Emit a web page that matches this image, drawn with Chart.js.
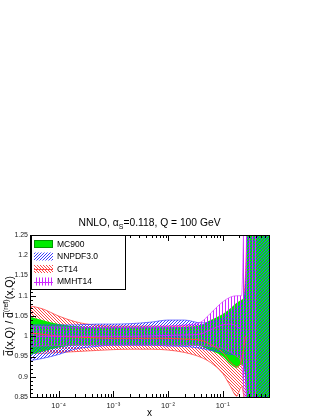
<!DOCTYPE html>
<html>
<head>
<meta charset="utf-8">
<script src="https://cdn.jsdelivr.net/npm/chart.js@4.4.0/dist/chart.umd.min.js"></script>
<style>
  html, body { margin: 0; padding: 0; background: #fff; }
  #wrap { width: 323px; height: 418px; }
</style>
</head>
<body>
<div id="wrap"><canvas id="pdfRatio" width="323" height="418"></canvas></div>
<script>
const xGrid = [3e-5, 5e-5, 1e-4, 2e-4, 5e-4, 1e-3, 2e-3, 5e-3, 1e-2, 2e-2, 4e-2, 6e-2,
               0.1, 0.14, 0.18, 0.22, 0.26, 0.30, 0.35, 0.42, 0.5, 0.7];

// MC900 (green, solid)
const mc900Upper = [1.048, 1.040, 1.030, 1.025, 1.022, 1.022, 1.022, 1.022, 1.022, 1.023, 1.028, 1.040,
                    1.055, 1.070, 1.083, 1.090, 1.12, 1.40, 1.40, 1.40, 1.40, 1.40];
const mc900Lower = [0.954, 0.962, 0.972, 0.977, 0.978, 0.978, 0.978, 0.978, 0.978, 0.977, 0.975, 0.965,
                    0.950, 0.930, 0.922, 0.930, 0.90, 0.60, 0.60, 0.60, 0.60, 0.60];

// NNPDF3.0 (blue hatch)
const nnpdfUpper = [1.028, 1.028, 1.028, 1.028, 1.030, 1.030, 1.031, 1.035, 1.040, 1.040, 1.033, 1.035,
                    1.045, 1.060, 1.070, 1.080, 1.12, 1.40, 1.40, 1.40, 1.40, 1.40];
const nnpdfLower = [0.940, 0.945, 0.955, 0.968, 0.975, 0.978, 0.978, 0.978, 0.976, 0.975, 0.970, 0.965,
                    0.960, 0.955, 0.955, 0.950, 0.90, 0.60, 0.60, 0.60, 0.60, 0.60];

// CT14 (red hatch) - stops at x = 0.35
const ct14Upper = [1.075, 1.068, 1.050, 1.036, 1.027, 1.025, 1.025, 1.025, 1.025, 1.025, 1.025, 1.022,
                   1.020, 1.025, 1.040, 1.070, 1.15, 1.40, 1.40];
const ct14Lower = [0.958, 0.958, 0.960, 0.962, 0.965, 0.967, 0.968, 0.968, 0.966, 0.960, 0.948, 0.935,
                   0.908, 0.875, 0.852, 0.875, 0.80, 0.60, 0.60];
const ct14Central = [1.008, 1.005, 1.000, 0.998, 0.996, 0.995, 0.995, 0.995, 0.995, 0.993, 0.990, 0.980,
                     0.960, 0.935, 0.925, 0.940, 1.00];

// MMHT14 (magenta vertical hatch) - stops at x = 0.42
const mmhtUpper = [1.025, 1.024, 1.023, 1.022, 1.022, 1.022, 1.022, 1.023, 1.025, 1.028, 1.035, 1.057,
                   1.085, 1.097, 1.100, 1.100, 1.40, 1.40, 1.40, 1.40];
const mmhtLower = [0.975, 0.976, 0.977, 0.978, 0.978, 0.978, 0.978, 0.978, 0.978, 0.978, 0.977, 0.975,
                   0.970, 0.960, 0.950, 0.930, 0.80, 0.60, 0.60, 0.60];
const mmhtCentral = [1.000, 1.000, 1.000, 1.000, 1.000, 1.000, 1.000, 1.001, 1.002, 1.003, 1.006, 1.016,
                     1.028, 1.030, 1.025, 1.015];

const xTickValues = [1e-4, 1e-3, 1e-2, 1e-1];
const xTickLabels = ['10\u207B\u2074', '10\u207B\u00B3', '10\u207B\u00B2', '10\u207B\u00B9'];
const legendLabels = ['MC900', 'NNPDF3.0', 'CT14', 'MMHT14'];

const FONT = "'Liberation Sans', Arial, Helvetica, sans-serif";
const GREEN = 'rgb(0,235,0)';
const BLUE = 'rgb(60,60,255)';
const RED = 'rgb(255,70,70)';
const MAGENTA = 'rgb(205,40,255)';

const canvas = document.getElementById('pdfRatio');
const ctx = canvas.getContext('2d');

// pixel hatches, no antialiasing so they stay thin like ROOT's
function makeHatch(color, kind, gap) {
  const c = document.createElement('canvas');
  c.width = gap;
  c.height = gap;
  const g = c.getContext('2d');
  g.fillStyle = color;
  for (let i = 0; i < gap; i++) {
    if (kind === 'vertical') g.fillRect(0, i, 1, 1);
    else if (kind === 'forward') g.fillRect(gap - 1 - i, i, 1, 1);
    else g.fillRect(i, i, 1, 1);
  }
  return ctx.createPattern(c, 'repeat');
}

const blueHatch = makeHatch(BLUE, 'forward', 3);
const redHatch = makeHatch(RED, 'back', 3);
const magentaHatch = makeHatch(MAGENTA, 'vertical', 3);

const pts = (ys) => ys.map((y, i) => ({ x: xGrid[i], y: y }));

function band(lower, upper, fillStyle, edge, order) {
  return [
    { data: pts(lower), borderColor: edge, borderWidth: edge ? 1 : 0, fill: false, order: order },
    { data: pts(upper), borderColor: edge, borderWidth: edge ? 1 : 0, fill: '-1',
      backgroundColor: fillStyle, order: order }
  ];
}

// higher order = drawn first: CT14 lies under the solid MC900 band
const datasets = [
  ...band(ct14Lower, ct14Upper, redHatch, 'rgba(255,70,70,0.8)', 50),
  ...band(mc900Lower, mc900Upper, GREEN, null, 40),
  ...band(nnpdfLower, nnpdfUpper, blueHatch, 'rgba(60,60,255,0.7)', 30),
  ...band(mmhtLower, mmhtUpper, magentaHatch, 'rgba(205,40,255,0.6)', 10),
  { data: pts(ct14Central), borderColor: RED, borderWidth: 1, fill: false, order: 5 },
  { data: pts(mmhtCentral), borderColor: MAGENTA, borderWidth: 1, fill: false, order: 4 }
];

// frame, inward ticks, titles and the boxed legend, drawn ROOT style
const rootDecor = {
  id: 'rootDecor',
  afterDatasetsDraw(chart) {
    const a = chart.chartArea;
    const xs = chart.scales.x;
    const ys = chart.scales.y;
    const c = chart.ctx;
    c.save();
    c.strokeStyle = '#000';
    c.lineWidth = 1;
    c.beginPath();
    // y ticks every 0.01, major every 0.05
    for (let i = 0; i <= 40; i++) {
      const py = Math.round(ys.getPixelForValue(0.85 + i * 0.01)) + 0.5;
      const len = i % 5 === 0 ? 6 : 3;
      c.moveTo(a.left, py); c.lineTo(a.left + len, py);
    }
    // x ticks on log scale, top and bottom
    for (let k = -5; k <= 0; k++) {
      for (let m = 1; m <= 9; m++) {
        const v = m * Math.pow(10, k);
        if (v < xs.min || v > xs.max) continue;
        const px = Math.round(xs.getPixelForValue(v)) + 0.5;
        const len = m === 1 ? 6 : 3;
        c.moveTo(px, a.bottom); c.lineTo(px, a.bottom - len);
        c.moveTo(px, a.top); c.lineTo(px, a.top + len);
      }
    }
    c.stroke();
    c.strokeRect(Math.round(a.left) + 0.5, Math.round(a.top) + 0.5,
                 Math.round(a.right - a.left), Math.round(a.bottom - a.top));
    c.restore();
  },
  afterDraw(chart) {
    const a = chart.chartArea;
    const c = chart.ctx;
    c.save();
    c.fillStyle = '#000';
    c.textBaseline = 'alphabetic';

    // title with subscript
    const big = '10.3px ' + FONT;
    const small = '7px ' + FONT;
    const parts = [['NNLO, \u03B1', big, 0], ['S', small, 2.5], ['=0.118, Q = 100 GeV', big, 0]];
    let total = 0;
    parts.forEach(p => { c.font = p[1]; total += c.measureText(p[0]).width; });
    let tx = (a.left + a.right) / 2 - total / 2;
    parts.forEach(p => {
      c.font = p[1];
      c.fillText(p[0], tx, 226 + p[2]);
      tx += c.measureText(p[0]).width;
    });

    // x axis title
    c.font = '10px ' + FONT;
    c.textAlign = 'center';
    c.fillText('x', (a.left + a.right) / 2, 416);
    c.textAlign = 'left';

    // y axis title, rotated, with bars and superscript
    const yf = 10.5;
    const yParts = [['d', yf, 0, true], ['(x,Q) / ', yf, 0, false], ['d', yf, 0, true],
                    ['(ref)', 7, -4.5, false], ['(x,Q)', yf, 0, false]];
    let yTotal = 0;
    yParts.forEach(p => { c.font = p[1] + 'px ' + FONT; yTotal += c.measureText(p[0]).width; });
    c.translate(12.5, (a.top + a.bottom) / 2);
    c.rotate(-Math.PI / 2);
    let u = -yTotal / 2;
    yParts.forEach(p => {
      c.font = p[1] + 'px ' + FONT;
      const w = c.measureText(p[0]).width;
      c.fillText(p[0], u, p[2]);
      if (p[3]) {
        c.fillRect(u + 0.5, -p[1] * 0.88, w - 0.5, 0.8);
      }
      u += w;
    });
    c.setTransform(1, 0, 0, 1, 0, 0);

    // legend box
    const lx = 31.5, ly = 235.5, lw = 94, lh = 54;
    c.fillStyle = '#fff';
    c.fillRect(lx, ly, lw, lh);
    c.strokeStyle = '#000';
    c.lineWidth = 1;
    c.strokeRect(lx, ly, lw, lh);
    const fills = [GREEN, blueHatch, redHatch, magentaHatch];
    const lines = [null, null, RED, MAGENTA];
    const rows = [244, 256.5, 269, 281.5];
    c.font = '8.5px ' + FONT;
    c.textBaseline = 'middle';
    rows.forEach((ry, i) => {
      c.fillStyle = fills[i];
      c.fillRect(34, ry - 4, 19, 8);
      if (i === 0) {
        c.strokeStyle = 'rgb(0,150,0)';
        c.strokeRect(34.5, ry - 3.5, 18, 7);
      }
      if (lines[i]) {
        c.strokeStyle = lines[i];
        c.beginPath();
        c.moveTo(34, Math.round(ry) + 0.5); c.lineTo(53, Math.round(ry) + 0.5);
        c.stroke();
      }
      c.fillStyle = '#000';
      c.fillText(legendLabels[i], 57, ry + 0.5);
    });
    c.restore();
  }
};

new Chart(ctx, {
  type: 'line',
  data: { datasets: datasets },
  options: {
    responsive: false,
    animation: false,
    events: [],
    devicePixelRatio: 1,
    layout: { padding: { left: 0, right: 54, top: 235, bottom: 0 } },
    elements: {
      point: { radius: 0 },
      line: { cubicInterpolationMode: 'monotone' }
    },
    plugins: {
      legend: { display: false },
      tooltip: { enabled: false },
      title: { display: false }
    },
    scales: {
      x: {
        type: 'logarithmic',
        min: 3e-5,
        max: 0.7,
        grid: { display: false, drawTicks: false },
        border: { display: false },
        afterBuildTicks: (scale) => {
          scale.ticks = xTickValues.map(v => ({ value: v }));
        },
        afterFit: (scale) => { scale.height = 21; },
        ticks: {
          autoSkip: false,
          maxRotation: 0,
          padding: 4,
          color: '#222',
          font: { family: FONT, size: 7.5 },
          callback: (value) => {
            const i = xTickValues.findIndex(v => Math.abs(v - value) / v < 1e-6);
            return i >= 0 ? xTickLabels[i] : '';
          }
        }
      },
      y: {
        min: 0.85,
        max: 1.25,
        grid: { display: false, drawTicks: false },
        border: { display: false },
        afterFit: (scale) => { scale.width = 30; },
        ticks: {
          stepSize: 0.05,
          padding: 2,
          color: '#222',
          font: { family: FONT, size: 7 },
          callback: (value) => String(Math.round(value * 100) / 100)
        }
      }
    }
  },
  plugins: [rootDecor]
});
</script>
</body>
</html>
